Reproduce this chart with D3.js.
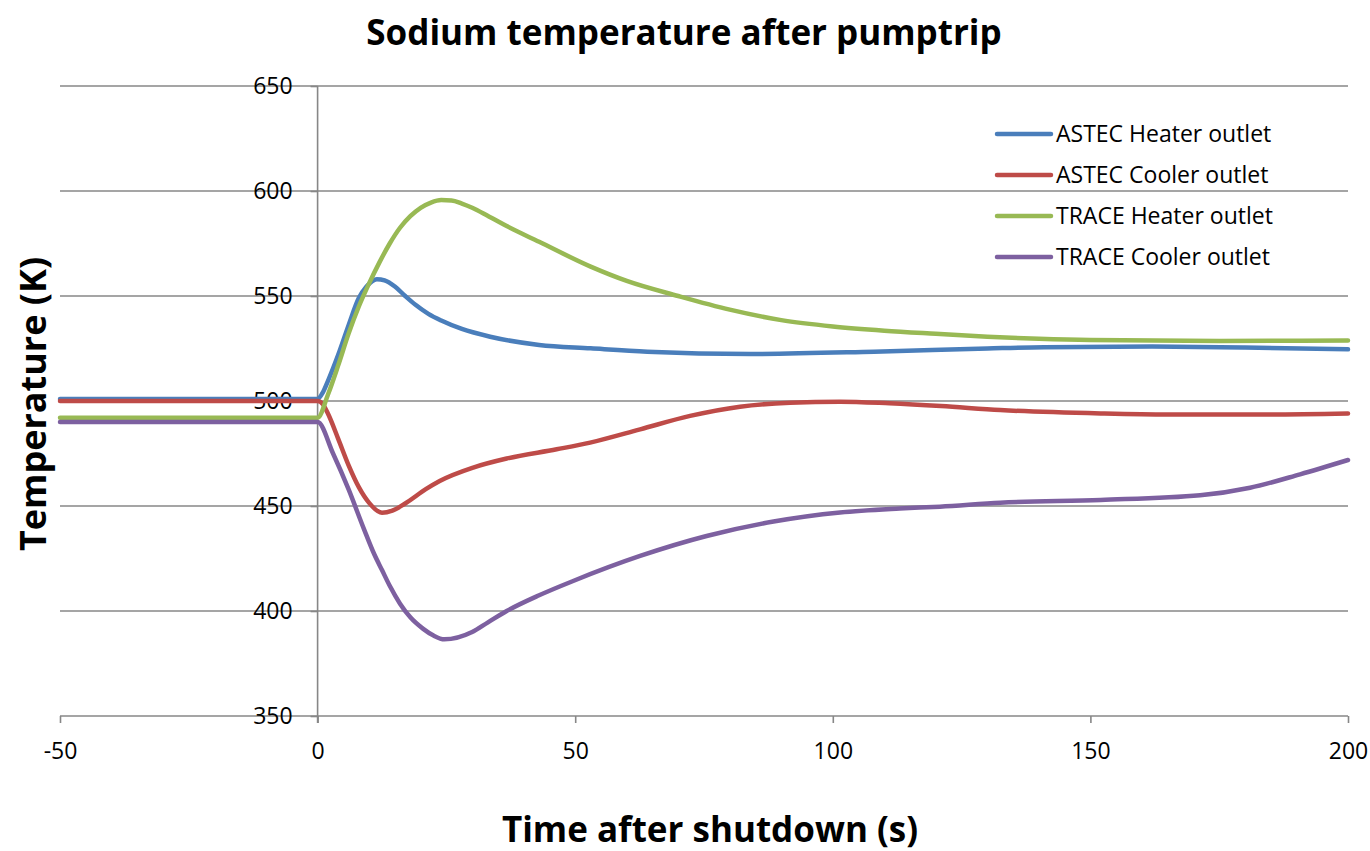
<!DOCTYPE html>
<html>
<head>
<meta charset="utf-8">
<script src="https://cdn.jsdelivr.net/npm/d3@7"></script>
<style>
  body { margin: 0; background: #fff; }
  svg text { font-family: "Open Sans", sans-serif; fill: #000; }
</style>
</head>
<body>
<div id="container"></div>
<script>
const seriesNames = ['ASTEC Heater outlet', 'ASTEC Cooler outlet', 'TRACE Heater outlet', 'TRACE Cooler outlet'],
  seriesColours = ['#4a7ebb', '#be4b48', '#98b954', '#7d60a0'],
  xTicks = [-50, 0, 50, 100, 150, 200],
  yTicks = [350, 400, 450, 500, 550, 600, 650];

// [time (s), temperature (K)]
const astecHeater = [[-50, 501], [0, 501], [1, 504], [2, 509.5], [4, 522], [6, 536], [8, 549], [9.5, 554.5], [11.5, 558], [13, 557.4],
  [15, 554.5], [17, 550], [19, 545.8], [21.5, 541.5], [24, 538.3], [28, 534.3], [33.5, 530.6], [43, 526.7], [53, 525.1],
  [64, 523.5], [84, 522.4], [108, 523.5], [130, 525], [141, 525.6], [162, 525.9], [180, 525.5], [200, 524.6]];
const astecCooler = [[-50, 500], [0, 500], [1, 498.5], [2, 494], [4, 482], [6, 469.5], [8, 459], [10, 451.5], [12.5, 446.8],
  [14.5, 447.8], [17, 451.2], [21, 458], [23.7, 461.9], [30.2, 468.3], [36.7, 472.6], [46.4, 477], [52.9, 480.2], [62.6, 486.5],
  [72.3, 492.9], [82, 497.3], [91.7, 499.2], [101.4, 499.7], [111, 498.9], [121, 497.6], [132.5, 495.7], [152, 494.1],
  [165, 493.6], [184, 493.6], [200, 494.1]];
const traceHeater = [[-50, 492], [0, 492], [2, 503], [4, 517], [6, 532], [8, 545], [10, 556], [12, 566], [14, 575], [16, 582.5],
  [18, 588], [20, 592], [22, 594.5], [24, 595.7], [26, 595.5], [28, 594], [30, 592], [33, 588.2], [36.7, 583.3], [43, 575.8],
  [53, 564], [60, 557.2], [70, 550], [80, 543.5], [90, 538.5], [100, 535.5], [110, 533.5], [120, 532],
  [130, 530.6], [140, 529.6], [150, 529], [175, 528.6], [200, 528.8]];
const traceCooler = [[-50, 490], [0, 490], [3, 475], [6, 458], [9, 439], [11, 427], [12.5, 419.5], [14, 412], [16, 403.5],
  [18, 397], [20.5, 391.5], [22.5, 388.3], [24.6, 386.5], [30, 390], [33, 394.5], [36.7, 400], [43, 407.5],
  [49.6, 414.3], [62.6, 426.2], [75.5, 435.7], [88.5, 442.6], [101.4, 446.9], [113, 448.8], [120.8, 449.7], [132.5, 451.6],
  [152, 452.9], [171.3, 455.1], [181, 458.7], [190.7, 465.1], [200, 471.9]];

const seriesData = [astecHeater, astecCooler, traceHeater, traceCooler];

const width = 1370, height = 851,
  plot = { left: 60, right: 1348, top: 86, bottom: 716 },
  gridColour = '#878787',
  svg = d3.select('#container')
    .append('svg')
      .attr('width', width)
      .attr('height', height);

const x = d3.scaleLinear().domain([-50, 200]).range([plot.left, plot.right]),
  y = d3.scaleLinear().domain([350, 650]).range([plot.bottom, plot.top]);

// horizontal gridlines
svg.append('g')
  .selectAll('line')
  .data(yTicks)
  .enter()
  .append('line')
    .attr('x1', plot.left)
    .attr('x2', plot.right)
    .attr('y1', d => y(d))
    .attr('y2', d => y(d))
    .attr('stroke', gridColour)
    .attr('stroke-width', 1.6);

// x axis (ticks + labels), plain hyphen for negatives
const xAxis = svg.append('g')
  .attr('transform', `translate(0,${y(350)})`)
  .call(d3.axisBottom(x).tickValues(xTicks).tickSize(7).tickPadding(20).tickFormat(d => String(d)));
xAxis.select('.domain').remove();
xAxis.selectAll('line').attr('stroke', gridColour).attr('stroke-width', 1.6);
xAxis.selectAll('text').style('font-size', '23px').attr('fill', '#000');

// y axis sits at time zero
const yAxis = svg.append('g')
  .attr('transform', `translate(${x(0)},0)`)
  .call(d3.axisLeft(y).tickValues(yTicks).tickSize(7).tickPadding(18));
yAxis.select('.domain')
  .attr('d', `M0,${plot.top}V${plot.bottom + 7}`)
  .attr('stroke', gridColour)
  .attr('stroke-width', 1.6);
yAxis.selectAll('line').attr('stroke', gridColour).attr('stroke-width', 1.6);
yAxis.selectAll('text').style('font-size', '23px').attr('fill', '#000');

// series lines
const line = d3.line()
  .x(d => x(d[0]))
  .y(d => y(d[1]))
  .curve(d3.curveMonotoneX);

svg.append('g')
  .selectAll('path')
  .data(seriesData)
  .enter()
  .append('path')
    .attr('d', line)
    .attr('fill', 'none')
    .attr('stroke', (d, i) => seriesColours[i])
    .attr('stroke-width', 4.5)
    .attr('stroke-linejoin', 'round')
    .attr('stroke-linecap', 'round');

// legend
const legend = svg.append('g')
  .attr('transform', 'translate(997,134)')
  .selectAll('g')
  .data(seriesNames)
  .enter()
  .append('g')
    .attr('transform', (d, i) => `translate(0,${i * 41})`);
legend.append('line')
  .attr('x1', 0)
  .attr('x2', 54)
  .attr('stroke', (d, i) => seriesColours[i])
  .attr('stroke-width', 4.5)
  .attr('stroke-linecap', 'round');
legend.append('text')
  .attr('x', 59)
  .attr('dy', '0.35em')
  .style('font-size', '23px')
  .text(d => d);

// titles
svg.append('text')
  .attr('x', 684)
  .attr('y', 45)
  .attr('text-anchor', 'middle')
  .style('font-size', '35px')
  .style('font-weight', 'bold')
  .text('Sodium temperature after pumptrip');

svg.append('text')
  .attr('x', 710)
  .attr('y', 842)
  .attr('text-anchor', 'middle')
  .style('font-size', '35px')
  .style('font-weight', 'bold')
  .text('Time after shutdown (s)');

svg.append('text')
  .attr('transform', 'translate(46,404) rotate(-90)')
  .attr('text-anchor', 'middle')
  .style('font-size', '36px')
  .style('font-weight', 'bold')
  .text('Temperature (K)');
</script>
</body>
</html>
